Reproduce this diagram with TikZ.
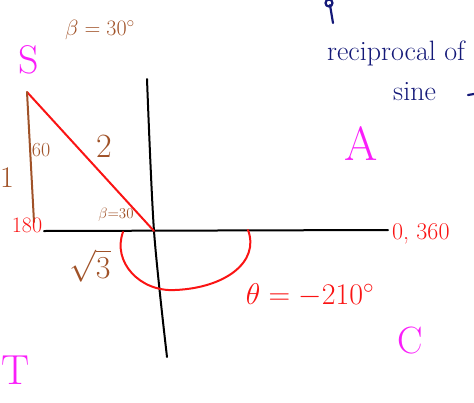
\RequirePackage{fix-cm}
\documentclass[tikz,border=0pt]{standalone}
\usepackage{amsmath}
\usetikzlibrary{positioning}
\definecolor{inkbrown}{RGB}{160,82,40}
\definecolor{inkred}{RGB}{250,20,20}
\definecolor{inkpink}{RGB}{250,30,250}
\definecolor{inkblue}{RGB}{20,25,120}

\begin{document}
\begin{tikzpicture}[x=1pt, y=-1pt,
    axis/.style={draw=black, line width=2pt, line cap=round},
    redline/.style={draw=inkred, line width=2pt, line cap=round},
    brownline/.style={draw=inkbrown, line width=2pt, line cap=round},
    blueline/.style={draw=inkblue, line width=2.2pt, line cap=round},
    quad/.style={text=inkpink, font=\fontsize{40}{40}\selectfont, inner sep=0pt},
    brownlbl/.style={text=inkbrown, inner sep=0pt},
    redlbl/.style={text=inkred, inner sep=0pt},
    note/.style={text=inkblue, font=\fontsize{28}{30}\selectfont, inner sep=0pt}
]
\useasboundingbox (0,0) rectangle (474,402);
\clip (0,0) rectangle (474,402);

% Axes
\coordinate (xleft) at (44,231);
\coordinate (xright) at (388,230);
\coordinate (ytop) at (147,79);
\coordinate (origin) at (154,231);
\coordinate (ybot) at (167,357);
\draw[axis] (xleft) -- (xright);
\draw[axis] plot[smooth] coordinates {(ytop) (origin) (ybot)};

% Triangle
\coordinate (apex) at (27,92);
\coordinate (foot) at (34,222);
\draw[redline] (apex) -- (origin);
\draw[brownline] (apex) -- (foot);

% Angle arc
\coordinate (arcstart) at (123,232);
\coordinate (arcend) at (248,230);
\draw[redline] (arcstart) .. controls (112,262) and (140,292) .. (175,290)
    .. controls (225,288) and (260,262) .. (arcend);

% Quadrant letters
\node[quad] (qs) at (29,60) {S};
\node[quad, font=\fontsize{48}{48}\selectfont] (qa) at (361,144) {A};
\node[quad, font=\fontsize{42}{42}\selectfont] (qt) at (16,370) {T};
\node[quad, font=\fontsize{38}{38}\selectfont] (qc) at (410,341) {C};

% Triangle labels
\node[brownlbl, font=\fontsize{22}{22}\selectfont] (betatop) at (100,30) {$\beta=30^\circ$};
\node[brownlbl, font=\fontsize{20}{20}\selectfont] (sixty) at (41,150) {60};
\node[brownlbl, font=\fontsize{34}{34}\selectfont] (hyp) at (104,146) {2};
\node[brownlbl, font=\fontsize{30}{30}\selectfont] (opp) at (7,178) {1};
\node[brownlbl, font=\fontsize{15}{15}\selectfont] (betasmall) at (116,215) {$\beta{=}30$};
\node[brownlbl, font=\fontsize{32}{32}\selectfont] (adj) at (90,266) {$\sqrt{3}$};

% Axis labels
\node[redlbl, font=\fontsize{22}{22}\selectfont] (deg180) at (27,225) {180};
\node[redlbl, font=\fontsize{24}{24}\selectfont, anchor=west] (deg0) at (392,234) {0, 360};
\node[redlbl, font=\fontsize{30}{30}\selectfont] (theta) at (310,295) {$\theta=-210^\circ$};

% Notes (cut off at the edge)
\node[note, anchor=base west] (recip) at (327,60) {reciprocal of};
\node[note, anchor=base west] (sine) at (393,100) {sine};
\draw[blueline] (329,3) circle (3.5);
\draw[blueline] (330,5) -- (333,23);
\draw[blueline] (468,95) -- (474,94);

\end{tikzpicture}
\end{document}
